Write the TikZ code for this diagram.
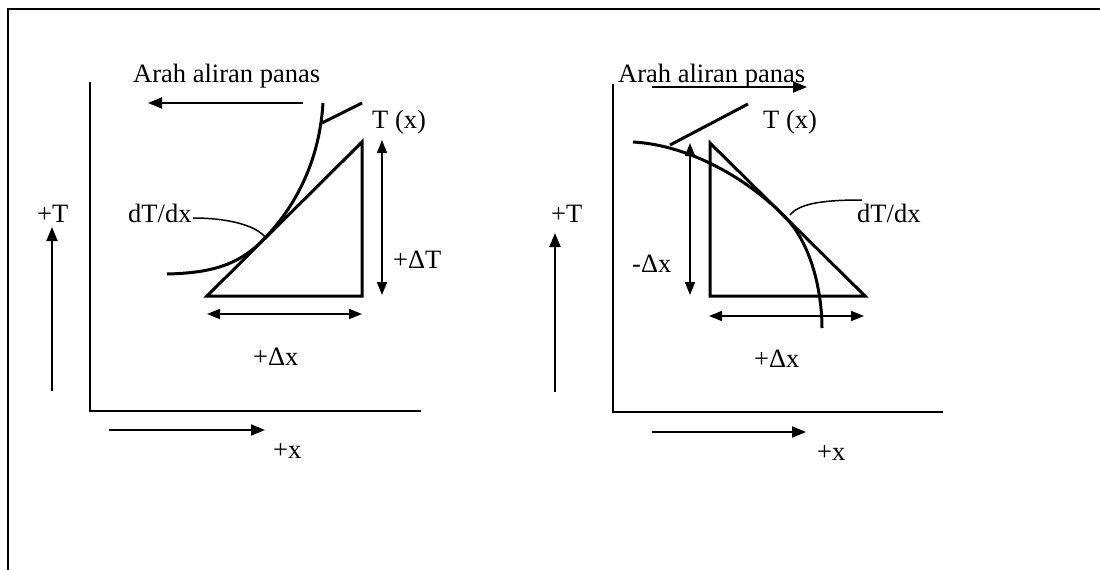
\documentclass[tikz,border=0pt]{standalone}
\usepackage{fontspec}
\setmainfont{Liberation Serif}
\usetikzlibrary{arrows.meta}
\begin{document}
\begin{tikzpicture}[x=1pt,y=-1pt,
  lbl/.style={anchor=base west, inner sep=0pt, font=\fontsize{26.5}{30}\selectfont},
  frame/.style={line width=2pt},
  axis/.style={line width=2.6pt, line cap=rect},
  arr/.style={line width=2pt, -{Triangle[length=14pt,width=11pt]}},
  darr/.style={line width=1.6pt, {Triangle[length=13pt,width=10pt]}-{Triangle[length=13pt,width=10pt]}},
  tri/.style={line width=3pt, line join=miter},
  curve/.style={line width=3pt},
  lead/.style={line width=1.5pt},
  tlead/.style={line width=3pt},
]
\useasboundingbox (0,0) rectangle (1100,570);
% frame
\coordinate (fb) at (8,570);
\coordinate (fc) at (8,9);
\coordinate (fr) at (1100,9);
\draw[frame] (fb) -- (fc) -- (fr);

% ---------------- left diagram ----------------
\node[lbl] (Ltitle) at (133,82) {Arah aliran panas};
\coordinate (Lha) at (303,103); \coordinate (Lhb) at (148,103);
\draw[arr] (Lha) -- (Lhb);
\coordinate (Lytop) at (90,83); \coordinate (Lo) at (90,411); \coordinate (Lxr) at (420,411);
\draw[axis] (Lytop) -- (Lo) -- (Lxr);
\node[lbl] (LT) at (37,222) {+T};
\coordinate (LTa) at (52,391); \coordinate (LTb) at (52,227);
\draw[arr] (LTa) -- (LTb);
\node[lbl] (Lx) at (273,458) {+x};
\coordinate (Lxa) at (109,430); \coordinate (Lxb) at (265,430);
\draw[arr] (Lxa) -- (Lxb);
% triangle
\coordinate (LA) at (207,296); \coordinate (LB) at (362,296); \coordinate (LC) at (362,142);
\draw[tri] (LA) -- (LB) -- (LC) -- cycle;
% curve
\coordinate (Lc0) at (167,274); \coordinate (Ltp) at (262,241); \coordinate (Lc1) at (323,103);
\draw[curve] (Lc0) .. controls (215,273) and (240,263) .. (Ltp)
             .. controls (290,213) and (319,168) .. (Lc1);
% T(x) label + leader
\node[lbl] (LTx) at (372,128) {T (x)};
\coordinate (Ll0) at (322,123); \coordinate (Ll1) at (362,103);
\draw[tlead] (Ll0) -- (Ll1);
% dT/dx
\node[lbl] (Ld) at (128,222) {dT/dx};
\coordinate (Ld0) at (193,218); \coordinate (Ld1) at (265,237);
\draw[lead] (Ld0) .. controls (230,218) and (256,226) .. (Ld1);
% delta arrows
\coordinate (LdTa) at (382,140); \coordinate (LdTb) at (382,295);
\draw[darr] (LdTa) -- (LdTb);
\node[lbl] (LdT) at (393,268) {+ΔT};
\coordinate (Ldxa) at (207,314); \coordinate (Ldxb) at (362,314);
\draw[darr] (Ldxa) -- (Ldxb);
\node[lbl] (Ldx) at (253,365) {+Δx};

% ---------------- right diagram ----------------
\node[lbl] (Rtitle) at (618,82) {Arah aliran panas};
\coordinate (Rha) at (652,87); \coordinate (Rhb) at (807,87);
\draw[arr] (Rha) -- (Rhb);
\coordinate (Rytop) at (613,85); \coordinate (Ro) at (613,412); \coordinate (Rxr) at (942,412);
\draw[axis] (Rytop) -- (Ro) -- (Rxr);
\node[lbl] (RT) at (551,222) {+T};
\coordinate (RTa) at (555,392); \coordinate (RTb) at (555,233);
\draw[arr] (RTa) -- (RTb);
\node[lbl] (Rx) at (817,460) {+x};
\coordinate (Rxa) at (652,432); \coordinate (Rxb) at (806,432);
\draw[arr] (Rxa) -- (Rxb);
% triangle
\coordinate (RA) at (710,143); \coordinate (RB) at (710,296); \coordinate (RC) at (865,296);
\draw[tri] (RA) -- (RB) -- (RC) -- cycle;
% curve
\coordinate (Rc0) at (633,142); \coordinate (Rtp) at (787,219); \coordinate (Rc1) at (822,328);
\draw[curve] (Rc0) .. controls (690,145) and (750,180) .. (Rtp)
             .. controls (815,250) and (822,300) .. (Rc1);
% T(x) label + leader
\node[lbl] (RTx) at (763,128) {T (x)};
\coordinate (Rl0) at (670,145); \coordinate (Rl1) at (748,104);
\draw[tlead] (Rl0) -- (Rl1);
% dT/dx
\node[lbl] (Rd) at (857,222) {dT/dx};
\coordinate (Rd0) at (790,215); \coordinate (Rd1) at (862,200);
\draw[lead] (Rd0) .. controls (800,202) and (830,200) .. (Rd1);
% delta arrows
\coordinate (RdTa) at (690,143); \coordinate (RdTb) at (690,295);
\draw[darr] (RdTa) -- (RdTb);
\node[lbl] (RdT) at (632,272) {-Δx};
\coordinate (Rdxa) at (709,316); \coordinate (Rdxb) at (864,316);
\draw[darr] (Rdxa) -- (Rdxb);
\node[lbl] (Rdx) at (754,367) {+Δx};
\end{tikzpicture}
\end{document}
